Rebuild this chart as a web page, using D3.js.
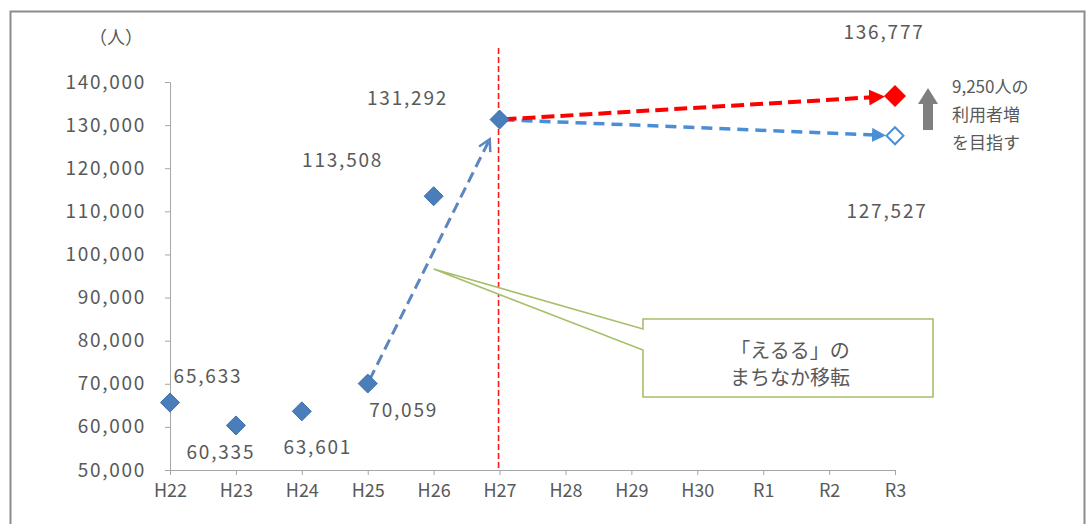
<!DOCTYPE html>
<html>
<head>
<meta charset="utf-8">
<script src="https://cdn.jsdelivr.net/npm/d3@7"></script>
<style>
html,body{margin:0;padding:0;background:#fff;}
svg text{font-family:"Noto Sans CJK JP","Noto Sans",sans-serif;fill:#595959;}
</style>
</head>
<body>
<svg id="chart" width="1086" height="524"></svg>
<script>
const categories = ["H22","H23","H24","H25","H26","H27","H28","H29","H30","R1","R2","R3"];
const actualYears = ["H22","H23","H24","H25","H26","H27"];
const actualValues = [65633, 60335, 63601, 70059, 113508, 131292];
const targetYear = "R3";
const targetValue = 136777;   // goal (red)
const trendValue = 127527;    // projected without action (hollow)
const yTicks = [50000,60000,70000,80000,90000,100000,110000,120000,130000,140000];
const yUnit = "（人）";
const calloutLines = ["「えるる」の","まちなか移転"];
const noteLines = ["9,250人の","利用者増","を目指す"];

const svg = d3.select("#chart");
const fmt = d3.format(",");

// frame
svg.append("rect").attr("x",10.5).attr("y",11.5).attr("width",1074).attr("height",530)
  .attr("fill","none").attr("stroke","#8c8c8c").attr("stroke-width",2);

const x = d3.scalePoint().domain(categories).range([170,895]);
const y = d3.scaleLinear().domain([50000,140000]).range([470,82]);

// axes
const gy = svg.append("g").attr("transform","translate(170,0)")
  .call(d3.axisLeft(y).tickValues(yTicks).tickFormat(fmt).tickSize(5).tickPadding(19));
const gx = svg.append("g").attr("transform","translate(0,470)")
  .call(d3.axisBottom(x).tickSize(5).tickPadding(9));
[gy,gx].forEach(g=>{
  g.selectAll("path,line").attr("stroke","#a6a6a6");
  g.selectAll("text").attr("fill","#595959").style("font-size","19px")
    .style("font-family","'Noto Sans CJK JP',sans-serif");
});
gy.selectAll("text").style("letter-spacing","1.7px");
gx.selectAll("text").style("font-size","18px");

svg.append("text").attr("x",116).attr("y",44).attr("text-anchor","middle")
  .style("font-size","18px").text(yUnit);

// defs for arrows
const defs = svg.append("defs");
defs.append("marker").attr("id","arrRed").attr("viewBox","0 0 10 10").attr("refX",5).attr("refY",5)
  .attr("markerWidth",4).attr("markerHeight",4).attr("orient","auto").attr("markerUnits","strokeWidth")
  .append("path").attr("d","M0,0L10,5L0,10z").attr("fill","#ff0000");
defs.append("marker").attr("id","arrBlue").attr("viewBox","0 0 10 10").attr("refX",5).attr("refY",5)
  .attr("markerWidth",4).attr("markerHeight",4).attr("orient","auto").attr("markerUnits","strokeWidth")
  .append("path").attr("d","M0,0L10,5L0,10z").attr("fill","#4a8fd6");
defs.append("marker").attr("id","arrOpen").attr("viewBox","0 0 12 12").attr("refX",10).attr("refY",6)
  .attr("markerWidth",5).attr("markerHeight",5).attr("orient","auto").attr("markerUnits","strokeWidth")
  .append("path").attr("d","M1,1L10,6L1,11").attr("fill","none").attr("stroke","#5b86c0").attr("stroke-width",2);

// red vertical dashed line at H27
svg.append("line").attr("x1",x("H27")-1).attr("x2",x("H27")-1).attr("y1",48).attr("y2",470)
  .attr("stroke","#ff1a1a").attr("stroke-width",1.6).attr("stroke-dasharray","6,3");

function shorten(x1,y1,x2,y2,a,b){
  const dx=x2-x1, dy=y2-y1, L=Math.hypot(dx,dy);
  return [x1+dx*a/L, y1+dy*a/L, x2-dx*b/L, y2-dy*b/L];
}

// blue dashed arrow H25 -> H27
{
  const i25 = actualYears.indexOf("H25"), i27 = actualYears.indexOf("H27");
  const s = shorten(x("H25"),y(actualValues[i25]),x("H27"),y(actualValues[i27]),4,22);
  svg.append("line").attr("x1",s[0]).attr("y1",s[1]).attr("x2",s[2]).attr("y2",s[3])
    .attr("stroke","#5b86c0").attr("stroke-width",3).attr("stroke-dasharray","11,6")
    .attr("marker-end","url(#arrOpen)");
}
// light blue dashed arrow H27 -> R3 trend
{
  const s = shorten(x("H27"),y(actualValues[5]),x(targetYear),y(trendValue),4,16);
  svg.append("line").attr("x1",s[0]).attr("y1",s[1]).attr("x2",s[2]).attr("y2",s[3])
    .attr("stroke","#4a8fd6").attr("stroke-width",3.5).attr("stroke-dasharray","11,7")
    .attr("marker-end","url(#arrBlue)");
}
// red dashed arrow H27 -> R3 goal
{
  const s = shorten(x("H27"),y(actualValues[5]),x(targetYear),y(targetValue),4,18);
  svg.append("line").attr("x1",s[0]).attr("y1",s[1]).attr("x2",s[2]).attr("y2",s[3])
    .attr("stroke","#ff0000").attr("stroke-width",4).attr("stroke-dasharray","13,6")
    .attr("marker-end","url(#arrRed)");
}

// diamonds
const diamond = r => `M0,${-r}L${r},0L0,${r}L${-r},0Z`;
svg.selectAll(".pt").data(actualYears.map((c,i)=>({c,v:actualValues[i]}))).join("path")
  .attr("class","pt").attr("transform",d=>`translate(${x(d.c)},${y(d.v)})`)
  .attr("d",diamond(9.5)).attr("fill","#4a7ebb").attr("stroke","#3f6fa8").attr("stroke-width",1);
svg.append("path").attr("transform",`translate(${x(targetYear)},${y(targetValue)})`)
  .attr("d",diamond(11)).attr("fill","#ff0000");
svg.append("path").attr("transform",`translate(${x(targetYear)},${y(trendValue)})`)
  .attr("d",diamond(8.5)).attr("fill","#fff").attr("stroke","#4a8fd6").attr("stroke-width",2);

// value labels (offset of text centre from the point)
const labelOffsets = {H22:[38,-27],H23:[-15,27],H24:[16,36],H25:[36,26],H26:[-91,-36],H27:[-92,-22]};
const labelStyle = t => t.attr("text-anchor","middle").style("font-size","19px").style("letter-spacing","1.8px");
actualYears.forEach((c,i)=>{
  const o = labelOffsets[c];
  svg.append("text").attr("x",x(c)+o[0]).attr("y",y(actualValues[i])+o[1]+7)
    .call(labelStyle).text(fmt(actualValues[i]));
});
svg.append("text").attr("x",x(targetYear)-11).attr("y",y(targetValue)-64+7)
  .call(labelStyle).text(fmt(targetValue));
svg.append("text").attr("x",x(targetYear)-8).attr("y",y(trendValue)+75+7)
  .call(labelStyle).text(fmt(trendValue));

// callout
{
  const ax = x("H26"), ay = 269;
  const L=643,R=933,T=319,B=397;
  svg.append("path")
    .attr("d",`M${L},${T}L${R},${T}L${R},${B}L${L},${B}L${L},350L${ax},${ay}L${L},329Z`)
    .attr("fill","#fff").attr("stroke","#a6bf6a").attr("stroke-width",1.6);
  calloutLines.forEach((t,i)=>{
    svg.append("text").attr("x",790).attr("y",358+i*27).attr("text-anchor","middle")
      .style("font-size","20px").text(t);
  });
}

// gray up arrow
svg.append("path")
  .attr("d","M923,130L923,104L918,104L928,88L938,104L933,104L933,130Z")
  .attr("fill","#7f7f7f");
noteLines.forEach((t,i)=>{
  svg.append("text").attr("x",952).attr("y",93+i*28).style("font-size","17px").text(t);
});
</script>
</body>
</html>
